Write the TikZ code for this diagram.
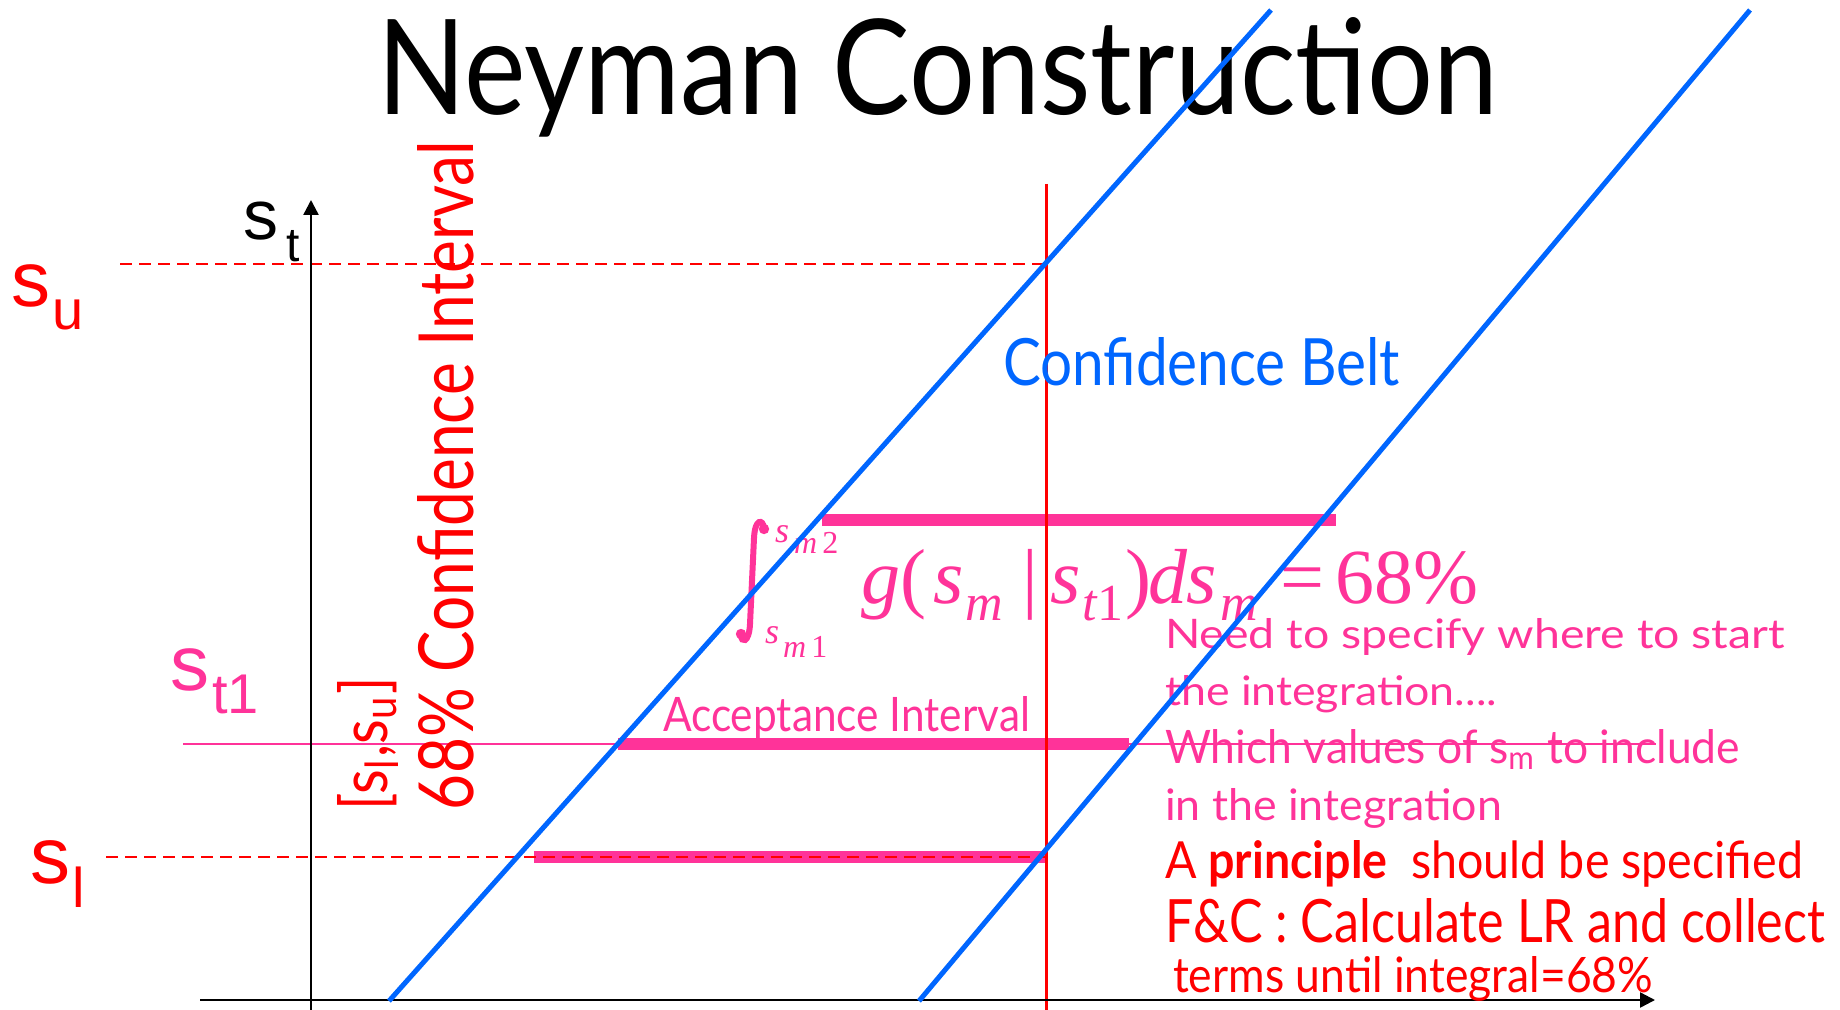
\documentclass[tikz,border=0pt]{standalone}
\usepackage{fontspec}
\usepackage{graphicx}
\setmainfont{Lato}
\newfontfamily\arialf{Liberation Sans}
\newfontfamily\timesf{Liberation Serif}
\usetikzlibrary{arrows.meta}
\definecolor{pk}{HTML}{FF3399}
\definecolor{bl}{HTML}{0066FF}
\definecolor{rd}{HTML}{FF0000}
\newcommand{\fs}[1]{\fontsize{#1}{#1}\selectfont}
\tikzset{
  lbl/.style={inner sep=0pt, outer sep=0pt, anchor=base west},
  belt/.style={draw=bl, line width=2.5pt},
  bar/.style={draw=pk, line width=6pt},
  dashln/.style={draw=rd, line width=1.1pt, dash pattern=on 6pt off 3.5pt},
  axisln/.style={draw=black, line width=1.2pt, -{Triangle[length=7.5pt,width=7.5pt]}},
  frm/.style={lbl, text=pk, font=\timesf\fs{39pt}},
  frs/.style={lbl, text=pk, font=\timesf\fs{26pt}},
  lim/.style={lbl, text=pk, font=\timesf\fs{16pt}},
}
\begin{document}
\begin{tikzpicture}[x=0.5pt,y=-0.5pt]
\useasboundingbox (0,0) rectangle (1840,1010);
% coordinates
\coordinate (yb) at (311,1010); \coordinate (yt) at (311,200);
\coordinate (xl) at (200,1000); \coordinate (xr) at (1655,1000);
\coordinate (b1a) at (389,1001); \coordinate (b1b) at (1271,10);
\coordinate (b2a) at (919,1001); \coordinate (b2b) at (1750,10);
\coordinate (rvt) at (1046,184); \coordinate (rvb) at (1046,1010);
\coordinate (sua) at (120,264); \coordinate (sub) at (1046,264);
\coordinate (sla) at (106,857); \coordinate (slb) at (1046,857);
\coordinate (tla) at (183,744); \coordinate (tlb) at (1656,744);
\coordinate (bta) at (822,520); \coordinate (btb) at (1336,520);
\coordinate (bma) at (618,744); \coordinate (bmb) at (1129,744);
\coordinate (bba) at (534,857); \coordinate (bbb) at (1046,857);
% bars
\draw[bar] (bta) -- (btb);
\draw[bar] (bma) -- (bmb);
\draw[bar] (bba) -- (bbb);
% thin lines
\draw[draw=pk, line width=1.2pt] (tla) -- (tlb);
\draw[dashln] (sua) -- (sub);
\draw[dashln] (sla) -- (slb);
\draw[draw=rd, line width=1.5pt] (rvt) -- (rvb);
% axes
\draw[axisln] (yb) -- (yt);
\draw[axisln] (xl) -- (xr);
% title
\node[lbl] (title) at (377,115) {\resizebox{560.5pt}{48.5pt}{Neyman Construction}};
% axis labels
\node[lbl, font=\arialf\fs{35pt}] (st) at (243,240) {s\kern4pt\raisebox{-11pt}{\fs{24pt}t}};
\node[lbl, text=rd, font=\arialf\fs{39pt}] (su) at (11,307) {s\kern1pt\raisebox{-11.5pt}{\fs{28pt}u}};
\node[lbl, text=rd, font=\arialf\fs{40pt}] (sl) at (30,883) {s\kern1pt\raisebox{-12pt}{\fs{28pt}l}};
\node[lbl, text=pk, font=\arialf\fs{39pt}] (st1) at (170,690) {s\kern1.5pt\raisebox{-11.5pt}{\fs{28pt}t1}};
% rotated
\node[lbl, rotate=90, text=rd] (ci) at (473,810) {\resizebox{334.5pt}{28pt}{68\% Confidence Interval}};
\node[lbl, rotate=90, text=rd] (slsu) at (387,810) {\resizebox{66.5pt}{25pt}{[s\textsubscript{l},s\textsubscript{u}]}};
% belt label
\node[lbl, text=bl] (beltlbl) at (1003,385) {\resizebox{198.5pt}{24pt}{Confidence Belt}};
\node[lbl, text=pk] (acc) at (663,731) {\resizebox{183.5pt}{17.5pt}{Acceptance Interval}};
% integral sign
\draw[pk, line width=3pt, line cap=round]
  (764,528) .. controls (763,519) and (755,518) .. (754,538)
  -- (750,624) .. controls (749,644) and (741,643) .. (741,635);
\fill[pk] (764,529) circle (2.6pt);
\fill[pk] (741,634) circle (2.6pt);
\node[lbl, text=pk, font=\timesf\itshape\fs{18pt}] (ups) at (775,542) {s};
\node[lim] (upm) at (794,553) {\textit{m}\,2};
\node[lbl, text=pk, font=\timesf\itshape\fs{18pt}] (los) at (765,643) {s};
\node[lim] (lom) at (783,657) {\textit{m}\,1};
% formula
\node[frm] (fg) at (861,603) {\itshape g};
\node[frm] (fp1) at (900,603) {(};
\node[frm] (fs1) at (933,603) {\itshape s};
\node[frs] (fm1) at (965,620) {\itshape m};
\node[frm] (fbar) at (1022,603) {|};
\node[frm] (fs2) at (1050,603) {\itshape s};
\node[frs] (ft1) at (1082,620) {\textit{t}1};
\node[frm] (fp2) at (1125,603) {)};
\node[frm] (fd) at (1148,603) {\itshape d};
\node[frm] (fs3) at (1186,603) {\itshape s};
\node[frs] (fm2) at (1220,620) {\itshape m};
\node[frm] (feq) at (1280,603) {=};
\node[frm] (f68) at (1335,603) {68\%};
% text block
\node[lbl, text=pk] (t1) at (1165,648) {\resizebox{310pt}{15pt}{Need to specify where to start}};
\node[lbl, text=pk] (t2) at (1165,705) {\resizebox{166pt}{15pt}{the integration....}};
\node[lbl, text=pk] (t3) at (1165,763) {\resizebox{287.5pt}{17pt}{Which values of s\textsubscript{m} to include}};
\node[lbl, text=pk] (t4) at (1165,820) {\resizebox{168.5pt}{16pt}{in the integration}};
\node[lbl, text=rd] (t5) at (1165,878) {\resizebox{319pt}{19pt}{A \textbf{principle}\ \ should be specified}};
\node[lbl, text=rd] (t6) at (1165,942) {\resizebox{330pt}{22pt}{F\&C : Calculate LR and collect}};
\node[lbl, text=rd] (t7) at (1173,992) {\resizebox{240pt}{18pt}{terms until integral=68\%}};
% belt lines (on top)
\draw[belt] (b1a) -- (b1b);
\draw[belt] (b2a) -- (b2b);
\end{tikzpicture}
\end{document}
